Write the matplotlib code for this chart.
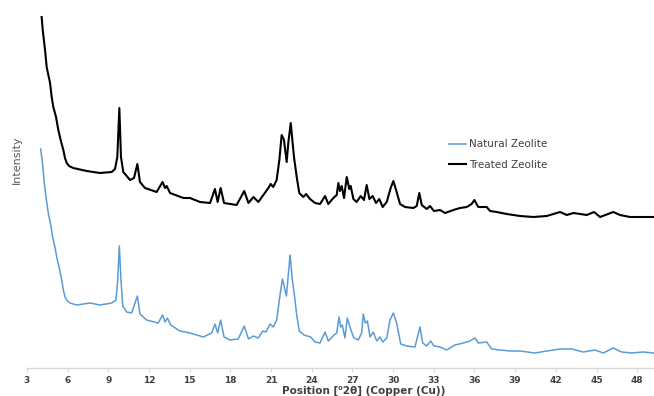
import matplotlib
matplotlib.use("Agg")
import matplotlib.pyplot as plt

# ---- data (2theta in degrees, intensity arb. units) ----
treated_x = [4.08, 4.16, 4.33, 4.45, 4.70, 4.82, 4.94, 5.14, 5.31, 5.48, 5.68, 5.80, 5.93, 6.10, 6.41,
             7.40, 8.38, 9.25, 9.49, 9.66, 9.81, 9.93,
             10.10, 10.60, 10.89, 11.14, 11.33, 11.70, 12.56, 13.00, 13.18, 13.30, 13.55, 14.53, 15.02,
             15.76, 16.50, 16.86, 17.06, 17.28, 17.53, 18.46, 19.02, 19.33, 19.70, 20.06, 20.43, 20.80,
             20.97, 21.16, 21.41, 21.61, 21.78, 21.95, 22.15, 22.27, 22.45, 22.59, 22.69, 22.89, 23.08,
             23.38, 23.58, 23.87, 24.24, 24.61, 24.98, 25.22, 25.59, 25.84, 25.96, 26.08, 26.21, 26.38,
             26.58, 26.77, 26.87, 27.07, 27.31, 27.61, 27.85, 28.05, 28.25, 28.49, 28.74, 28.98, 29.23,
             29.53, 29.82, 30.02, 30.26, 30.51, 30.88, 31.49, 31.74, 31.93, 32.11, 32.48, 32.72, 33.01,
             33.46, 33.83, 34.44, 34.69, 34.93, 35.43, 35.79, 35.99, 36.28, 36.90, 37.15, 37.64, 38.38,
             39.36, 40.35, 41.33, 42.31, 42.81, 43.30, 44.28, 44.82, 45.26, 46.24, 46.73, 47.47, 48.20,
             49.19]
treated_y = [351, 338, 318, 301, 285, 271, 261, 251, 238, 228, 218, 210, 205, 202, 200,
             197, 195, 196, 199, 211, 260, 211,
             196, 188, 190, 204, 186, 180, 176, 186, 180, 182, 175, 170, 170,
             166, 165, 179, 166, 180, 165, 163, 177, 165, 171, 166, 173, 180,
             184, 181, 188, 208, 233, 228, 206, 225, 245, 225, 211, 191, 175,
             171, 174, 169, 165, 164, 172, 164, 170, 173, 185, 177, 182, 170,
             191, 179, 182, 169, 166, 172, 168, 183, 169, 172, 165, 169, 161,
             166, 180, 187, 176, 164, 161, 160, 162, 175, 163, 159, 162, 157,
             158, 155, 158, 159, 160, 161, 164, 168, 161, 161, 157, 156, 154,
             152, 151, 152, 156, 153, 155, 153, 156, 151, 156, 153, 151, 151,
             151]

natural_x = [4.01, 4.16, 4.25, 4.40, 4.57, 4.75, 4.89, 5.06, 5.19, 5.38, 5.56, 5.68, 5.80, 5.98, 6.17,
             6.66, 7.65, 8.38, 9.25, 9.56, 9.69, 9.81,
             9.93, 10.06, 10.35, 10.72, 11.14, 11.33, 11.82, 12.68, 13.00, 13.18, 13.35, 13.60, 14.28,
             15.02, 16.00, 16.62, 16.86, 17.06, 17.28, 17.53, 17.97, 18.58, 19.02, 19.33, 19.70, 20.06,
             20.38, 20.62, 20.92, 21.16, 21.41, 21.61, 21.83, 21.98, 22.13, 22.28, 22.40, 22.57, 22.72,
             22.89, 23.08, 23.43, 23.67, 23.92, 24.24, 24.61, 24.98, 25.22, 25.64, 25.84, 26.01, 26.13,
             26.25, 26.45, 26.62, 26.82, 26.94, 27.11, 27.43, 27.68, 27.80, 27.95, 28.10, 28.30, 28.54,
             28.79, 29.03, 29.23, 29.53, 29.77, 30.02, 30.26, 30.56, 31.00, 31.61, 31.98, 32.18, 32.48,
             32.77, 33.01, 33.46, 33.95, 34.56, 35.18, 35.67, 36.04, 36.28, 36.90, 37.27, 37.88, 38.62,
             39.36, 40.46, 41.33, 42.31, 43.17, 44.03, 44.89, 45.50, 46.24, 46.85, 47.59, 48.45, 49.19]
natural_y = [219, 203, 188, 171, 155, 143, 131, 121, 111, 100, 88, 78, 71, 67, 65,
             63, 65, 63, 65, 68, 88, 122,
             88, 62, 56, 55, 72, 54, 48, 45, 53, 46, 50, 43, 37,
             35, 31, 35, 44, 35, 48, 31, 28, 29, 42, 29, 32, 30,
             37, 36, 44, 41, 48, 68, 89, 81, 72, 95, 113, 88, 73,
             53, 37, 33, 32, 31, 26, 25, 36, 27, 33, 35, 51, 41,
             43, 30, 50, 41, 36, 30, 28, 35, 54, 45, 47, 31, 36,
             27, 31, 26, 30, 48, 55, 45, 24, 22, 21, 41, 25, 22,
             27, 22, 21, 18, 23, 25, 27, 30, 25, 26, 19, 18, 17,
             17, 15, 17, 19, 19, 16, 18, 15, 20, 16, 15, 16, 15]

tick_values = [3, 6, 9, 12, 15, 18, 21, 24, 27, 30, 33, 36, 39, 42, 45, 48]
series_labels = ["Natural Zeolite", "Treated Zeolite"]
x_label = "Position [\u20702\u03b8] (Copper (Cu))"
y_label = "Intensity"

# ---- figure ----
W, H = 654, 396
fig = plt.figure(figsize=(W / 100, H / 100), dpi=100)
ax = fig.add_axes([27 / W, (H - 368) / H, (W - 27) / W, 368 / H])
ax.set_xlim(3, 3 + (W - 27) / 13.56)
ax.set_ylim(0, 368)

ax.plot(natural_x, natural_y, color="#5B9BD5", lw=1.1, label=series_labels[0])
ax.plot(treated_x, treated_y, color="#000000", lw=1.5, label=series_labels[1])

for s in ["top", "right", "left"]:
    ax.spines[s].set_visible(False)
ax.spines["bottom"].set_color("#D9D9D9")
ax.spines["bottom"].set_linewidth(1.0)
ax.set_yticks([])
ax.set_xticks(tick_values)
ax.set_xticklabels([str(t) for t in tick_values], fontsize=6.5, color="#404040", fontweight="bold")
ax.tick_params(axis="x", length=3, color="#D9D9D9", pad=3)

fig.text(364 / W, 1 - 391 / H, x_label, ha="center", va="center", fontsize=7.5,
         fontweight="bold", color="#404040")
fig.text(17 / W, 1 - 160 / H, y_label, ha="center", va="center", rotation=90,
         fontsize=8, color="#595959")

leg = ax.legend(loc="upper left", bbox_to_anchor=(440 / W, 1 - 130 / H),
                bbox_transform=fig.transFigure, frameon=False, fontsize=7.5,
                handlelength=1.6, handletextpad=0.3, labelspacing=1.0)
for t in leg.get_texts():
    t.set_color("#404040")

fig.savefig("out.png", dpi=100)
